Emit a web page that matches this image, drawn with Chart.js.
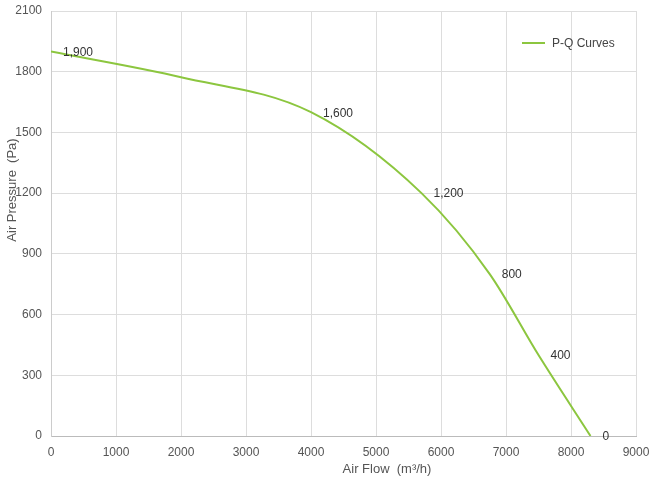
<!DOCTYPE html>
<html>
<head>
<meta charset="utf-8">
<script src="https://cdn.jsdelivr.net/npm/chart.js@4.4.0/dist/chart.umd.min.js"></script>
<style>
  html, body { margin: 0; padding: 0; background: #fff; }
  #wrap { width: 660px; height: 481px; }
</style>
</head>
<body>
<div id="wrap"><canvas id="pqChart"></canvas></div>
<script>
// P-Q curve points (air flow m³/h, air pressure Pa)
const airFlow = [0, 2000, 4000, 5700, 6750, 7500, 8300];
const airPressure = [1900, 1773, 1600, 1200, 800, 400, 0];
// value label shown beside each point ('' = no label)
const pointLabels = ['1,900', '', '1,600', '1,200', '800', '400', '0'];

const xTicks = [0, 1000, 2000, 3000, 4000, 5000, 6000, 7000, 8000, 9000];
const yTicks = [0, 300, 600, 900, 1200, 1500, 1800, 2100];

const seriesName = 'P-Q Curves';
const lineColor = '#8cc63f';
const FONT = '"Liberation Sans", Arial, sans-serif';

const points = airFlow.map((x, i) => ({ x: x, y: airPressure[i] }));

// labels next to each point, legend and axis titles
const extrasPlugin = {
    id: 'extras',
    afterDatasetsDraw(chart) {
        const ctx = chart.ctx;
        const xs = chart.scales.x;
        const ys = chart.scales.y;
        const area = chart.chartArea;
        ctx.save();
        ctx.font = '12px ' + FONT;
        ctx.fillStyle = '#333';
        ctx.textAlign = 'left';
        ctx.textBaseline = 'middle';
        points.forEach((p, i) => {
            if (!pointLabels[i]) return;
            ctx.fillText(pointLabels[i], xs.getPixelForValue(p.x) + 12, ys.getPixelForValue(p.y) + 1);
        });

        // legend
        ctx.strokeStyle = lineColor;
        ctx.lineWidth = 2;
        ctx.beginPath();
        ctx.moveTo(area.right - 114, 43);
        ctx.lineTo(area.right - 91, 43);
        ctx.stroke();
        ctx.fillStyle = '#444';
        ctx.fillText(seriesName, area.right - 84, 44);

        // axis titles
        ctx.font = '13px ' + FONT;
        ctx.fillStyle = '#555';
        ctx.textAlign = 'center';
        ctx.fillText('Air Flow  (m³/h)', 387, 469);
        ctx.translate(12, 190);
        ctx.rotate(-Math.PI / 2);
        ctx.fillText('Air Pressure  (Pa)', 0, 0);
        ctx.restore();
    }
};

const ctx = document.querySelector('#pqChart').getContext('2d');
new Chart(ctx, {
    type: 'line',
    data: {
        datasets: [{
            label: seriesName,
            data: points,
            borderColor: lineColor,
            backgroundColor: lineColor,
            borderWidth: 2,
            pointRadius: 0,
            cubicInterpolationMode: 'monotone',
            fill: false
        }]
    },
    options: {
        responsive: true,
        maintainAspectRatio: false,
        animation: false,
        layout: { padding: { top: 11, right: 24, left: 0, bottom: 0 } },
        plugins: {
            legend: { display: false },
            tooltip: { enabled: false }
        },
        scales: {
            x: {
                type: 'linear',
                min: 0,
                max: 9000,
                afterFit: (scale) => { scale.height = 45; scale.paddingRight = 0; scale.paddingLeft = 0; },
                afterBuildTicks: (scale) => { scale.ticks = xTicks.map(v => ({ value: v })); },
                ticks: {
                    color: '#555',
                    font: { family: FONT, size: 12 },
                    padding: 9,
                    maxRotation: 0,
                    callback: (v) => String(v)
                },
                grid: { color: '#dddddd', drawTicks: false },
                border: { color: '#bbbbbb' }
            },
            y: {
                type: 'linear',
                min: 0,
                max: 2100,
                afterFit: (scale) => { scale.width = 51; scale.paddingTop = 0; scale.paddingBottom = 0; },
                afterBuildTicks: (scale) => { scale.ticks = yTicks.map(v => ({ value: v })); },
                ticks: {
                    color: '#555',
                    font: { family: FONT, size: 12 },
                    padding: 9,
                    callback: (v) => String(v)
                },
                grid: { color: '#dddddd', drawTicks: false },
                border: { color: '#cccccc' }
            }
        }
    },
    plugins: [extrasPlugin]
});
</script>
</body>
</html>
